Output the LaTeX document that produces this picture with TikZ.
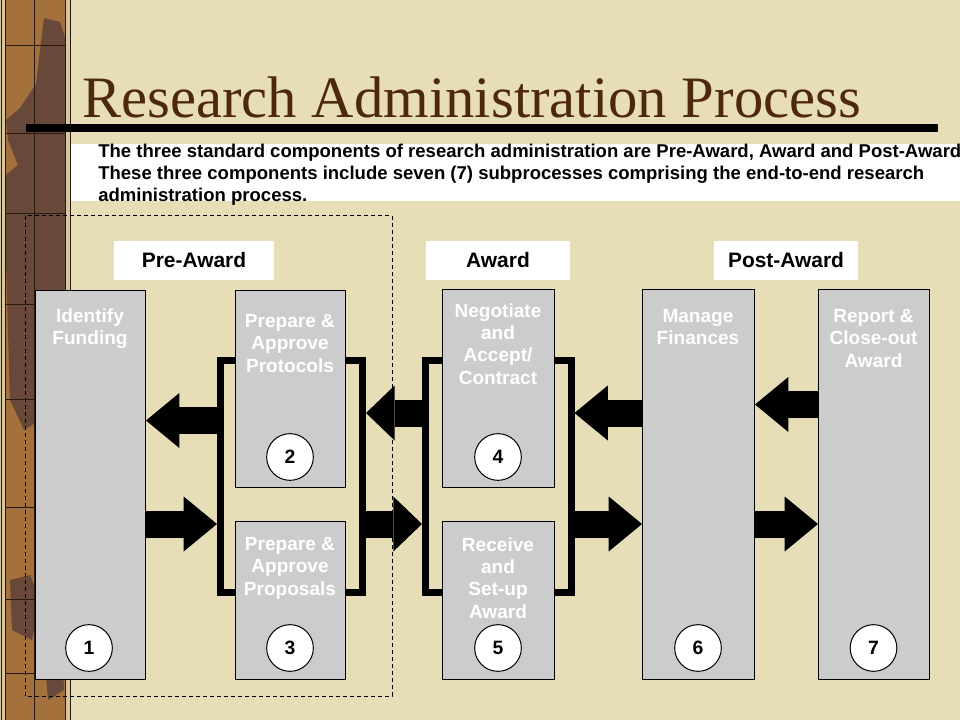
\documentclass[tikz,border=0pt]{standalone}
\usepackage{fontspec}
\setmainfont{Liberation Serif}
\newfontfamily\arialf{Liberation Sans}
\usetikzlibrary{arrows.meta,calc}
\definecolor{parch}{RGB}{231,222,184}
\definecolor{woodbase}{RGB}{164,112,60}
\definecolor{wooddark}{RGB}{104,72,56}
\definecolor{woodline}{RGB}{40,26,16}
\definecolor{woodrim}{RGB}{214,198,160}
\definecolor{titlebrown}{RGB}{77,41,8}
\definecolor{boxgray}{RGB}{204,204,204}
\tikzset{
  procbox/.style={draw=black, line width=0.75pt, fill=boxgray, inner sep=0pt, anchor=north west},
  boxtext/.style={anchor=north, inner sep=0pt, align=center, text=white,
    font=\arialf\bfseries\fontsize{14.3}{16.8}\selectfont},
  numcirc/.style={circle, draw=black, line width=0.75pt, fill=white, minimum size=35pt, inner sep=0pt,
    font=\arialf\bfseries\fontsize{14.5}{16}\selectfont},
  phase/.style={fill=white, minimum height=29.25pt, inner sep=0pt,
    font=\arialf\bfseries\fontsize{15.7}{18}\selectfont},
  bracket/.style={line width=5.25pt, line join=miter, line cap=butt},
  bigarrow/.style={line width=20.25pt, -{Triangle[width=41.25pt,length=25pt,line width=0pt]}},
  shortarrow/.style={line width=20.25pt, -{Triangle[width=41.25pt,length=21.5pt,line width=0pt]}},
}
\begin{document}
\begin{tikzpicture}[x=0.75pt,y=-0.75pt]
\useasboundingbox (0,0) rectangle (960,720);
% background
\fill[parch] (0,0) rectangle (960,720);
% wooden strip
\fill[woodbase] (0,0) rectangle (71,720);
\fill[wooddark] (44,18) -- (60,22) -- (66,40) -- (66,330) -- (56,350) -- (40,420) -- (24,430) -- (10,400) -- (6,262)
  -- (6,175) -- (18,165) -- (8,140) -- (6,120) -- (20,108) -- (36,84) -- (40,50) -- cycle;
\fill[wooddark] (40,500) -- (60,505) -- (64,560) -- (48,565) -- cycle;
\fill[wooddark] (10,580) -- (30,575) -- (40,600) -- (32,640) -- (12,630) -- cycle;
\fill[wooddark] (44,650) -- (62,640) -- (64,690) -- (48,700) -- cycle;
\fill[woodrim] (0,0) rectangle (6,720);
\fill[woodrim] (65,0) rectangle (71,720);
\draw[woodline, line width=0.6pt] (1,0) -- (1,720) (5.5,0) -- (5.5,720) (65,0) -- (65,720) (70.5,0) -- (70.5,720);
\draw[woodline, line width=0.6pt] (34,0) -- (34,720);
\foreach \yy in {45,133,213,304,399,507,599,673}
  \draw[woodline, line width=0.6pt] (6,\yy) -- (65,\yy);
% title
\node[anchor=base west, inner sep=0pt, text=titlebrown, font=\fontsize{44}{48}\selectfont] (title) at (82,118)
  {Research Administration Process};
\fill[black] (26,124) rectangle (938,132);
% description
\fill[white] (71,144) rectangle (965,201);
\node[anchor=north west, inner sep=0pt, align=left, font=\arialf\bfseries\fontsize{13.9}{16.7}\selectfont] (desc) at (98,143.5)
  {The three standard components of research administration are Pre-Award, Award and Post-Award.\\
   These three components include seven (7) subprocesses comprising the end-to-end research\\
   administration process.};
% dashed frame
\draw[dashed, line width=0.75pt, dash pattern=on 3pt off 2.25pt] (25,216) rectangle (392,696);
% phase labels
\node[phase, minimum width=120pt] (pre) at (194,260.5) {Pre-Award};
\node[phase, minimum width=108pt] (awd) at (498,260.5) {Award};
\node[phase, minimum width=108pt] (post) at (786,260.5) {Post-Award};
% boxes
\node[procbox, minimum width=82.5pt, minimum height=291.75pt] (b1) at (35,290) {};
\node[procbox, minimum width=82.5pt, minimum height=147.75pt] (b2) at (235,290) {};
\node[procbox, minimum width=82.5pt, minimum height=118.5pt] (b3) at (235,521) {};
\node[procbox, minimum width=84pt, minimum height=148.5pt] (b4) at (442,289) {};
\node[procbox, minimum width=84pt, minimum height=118.5pt] (b5) at (442,521) {};
\node[procbox, minimum width=84pt, minimum height=292.5pt] (b6) at (642,289) {};
\node[procbox, minimum width=83.25pt, minimum height=292.5pt] (b7) at (818,289) {};
% box texts
\node[boxtext] (t1) at (90,308) {Identify\\Funding};
\node[boxtext] (t2) at (290,314) {Prepare \&\\Approve\\Protocols};
\node[boxtext] (t3) at (290,537) {Prepare \&\\Approve\\Proposals};
\node[boxtext] (t4) at (498,303) {Negotiate\\and\\Accept/\\Contract};
\node[boxtext] (t5) at (498,537) {Receive\\and\\Set-up\\Award};
\node[boxtext] (t6) at (698,309) {Manage\\Finances};
\node[boxtext] (t7) at (873.5,309) {Report \&\\Close-out\\Award};
% numbers
\node[numcirc] (n1) at (89,648) {1};
\node[numcirc] (n2) at (290,457) {2};
\node[numcirc] (n3) at (290,648) {3};
\node[numcirc] (n4) at (498,457) {4};
\node[numcirc] (n5) at (498,648) {5};
\node[numcirc] (n6) at (698,648) {6};
\node[numcirc] (n7) at (873.5,648) {7};
% level coordinates
\coordinate (ytop) at (0,360);
\coordinate (ybot) at (0,592);
\coordinate (yA) at (0,420.5);
\coordinate (yC) at (0,413);
\coordinate (yG) at (0,404.5);
\coordinate (yR) at (0,524);
% brackets
\draw[bracket] (b2.west |- ytop) -- ++(-14.5,0) coordinate (k23L) |- (b3.west |- ybot);
\draw[bracket] (b2.east |- ytop) -- ++(16.5,0) coordinate (k23R) |- (b3.east |- ybot);
\draw[bracket] (b4.west |- ytop) -- ++(-16.5,0) coordinate (k45L) |- (b5.west |- ybot);
\draw[bracket] (b4.east |- ytop) -- ++(16,0) coordinate (k45R) |- (b5.east |- ybot);
% arrows
\draw[bigarrow] (k23L |- yA) -- (b1.east |- yA);
\draw[bigarrow] (b1.east |- yR) -- ($(k23L |- yR)+(-3.5,0)$);
\draw[shortarrow] (k45L |- yC) -- ($(k23R |- yC)+(3.5,0)$);
\draw[shortarrow] (k23R |- yR) -- ($(k45L |- yR)+(-3.5,0)$);
\draw[bigarrow] (b6.west |- yC) -- ($(k45R |- yC)+(3.5,0)$);
\draw[bigarrow] (k45R |- yR) -- (b6.west |- yR);
\draw[bigarrow] (b7.west |- yG) -- (b6.east |- yG);
\draw[bigarrow] (b6.east |- yR) -- (b7.west |- yR);
\end{tikzpicture}
\end{document}
